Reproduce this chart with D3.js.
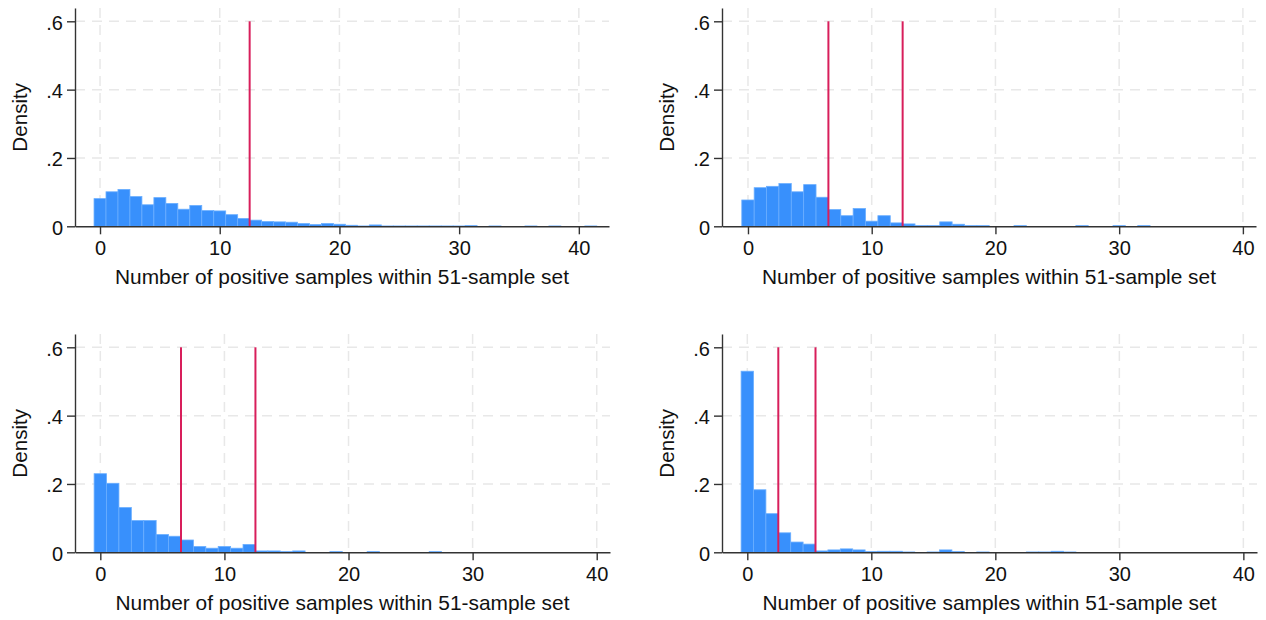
<!DOCTYPE html>
<html>
<head>
<meta charset="utf-8">
<script src="https://cdn.jsdelivr.net/npm/d3@7"></script>
<style>
  body { margin: 0; background: #fff; }
  svg { display: block; font-family: "Liberation Sans", Arial, Helvetica, sans-serif; }
</style>
</head>
<body>
<svg id="chart" width="1266" height="620"></svg>
<script>
// density per bin, bins centred on 0,1,2,... (bin i = [i-0.5, i+0.5))
var densityA = [0.081, 0.101, 0.108, 0.087, 0.063, 0.084, 0.067, 0.050, 0.061, 0.046,
                0.045, 0.034, 0.023, 0.018, 0.014, 0.013, 0.012, 0.008, 0.005, 0.008,
                0.006, 0.003, 0.001, 0.004, 0.001, 0.001, 0.001, 0.001, 0.001, 0.001,
                0.001, 0.002, 0, 0.001, 0, 0, 0.001, 0, 0.001, 0, 0, 0.001];
var densityB = [0.077, 0.113, 0.117, 0.125, 0.101, 0.122, 0.085, 0.049, 0.031, 0.052,
                0.015, 0.031, 0.010, 0.007, 0.002, 0.002, 0.013, 0.006, 0.002, 0.002,
                0, 0, 0.002, 0, 0, 0, 0, 0.002, 0, 0, 0.002, 0, 0.002];
var densityC = [0.230, 0.202, 0.131, 0.093, 0.093, 0.052, 0.047, 0.036, 0.017, 0.012,
                0.017, 0.012, 0.023, 0.004, 0.004, 0.002, 0.004, 0, 0, 0.002,
                0, 0, 0.002, 0, 0, 0, 0, 0.002];
var densityD = [0.530, 0.183, 0.113, 0.057, 0.030, 0.024, 0.004, 0.007, 0.010, 0.007,
                0.002, 0.003, 0.003, 0.001, 0, 0.001, 0.007, 0.002, 0, 0.001,
                0, 0, 0, 0.001, 0.001, 0.003, 0.001];

// reference lines (cut-offs)
var cutsA = [12.5];
var cutsB = [6.5, 12.5];
var cutsC = [6.5, 12.5];
var cutsD = [2.5, 5.5];

var xTicks = [0, 10, 20, 30, 40];
var yTicks = [0, 0.2, 0.4, 0.6];
var xTitle = "Number of positive samples within 51-sample set";
var yTitle = "Density";

// layout of the 2x2 grid
var panels = [
  {data: densityA, cuts: cutsA, left: 75,  right: 609,  base: 226.3, xDomain: [-2.09, 42.52]},
  {data: densityB, cuts: cutsB, left: 722, right: 1256, base: 226.3, xDomain: [-2.1, 41.06]},
  {data: densityC, cuts: cutsC, left: 75,  right: 610,  base: 552.3, xDomain: [-2.04, 41.07]},
  {data: densityD, cuts: cutsD, left: 722, right: 1257, base: 552.3, xDomain: [-2.04, 41.1]}
];

var svg = d3.select("#chart");
var pxPerUnitY = 205 / 0.6;   // .6 sits 205px above the baseline
var yTop = 0.639;            // axis runs a bit past .6
var fmtY = function(d) { return d === 0 ? "0" : d3.format(".1f")(d).replace(/^0/, ""); };

panels.forEach(function(p) {
  var x = d3.scaleLinear().domain(p.xDomain).range([p.left, p.right]);
  var y = d3.scaleLinear().domain([0, yTop]).range([p.base, p.base - yTop * pxPerUnitY]);
  var g = svg.append("g");
  var bins = p.data.map(function(v, i) { return {bin: i, v: v}; })
    .filter(function(d) { return d.v > 0; });

  // dashed grid
  g.selectAll(".hgrid").data(yTicks.slice(1)).enter().append("line")
    .attr("x1", p.left).attr("x2", p.right)
    .attr("y1", function(d) { return y(d); }).attr("y2", function(d) { return y(d); })
    .attr("stroke", "#e8e8e8").attr("stroke-width", 1.5).attr("stroke-dasharray", "10,7");
  g.selectAll(".vgrid").data(xTicks).enter().append("line")
    .attr("x1", function(d) { return x(d); }).attr("x2", function(d) { return x(d); })
    .attr("y1", y(yTop)).attr("y2", p.base)
    .attr("stroke", "#e8e8e8").attr("stroke-width", 1.5).attr("stroke-dasharray", "10,7");

  // histogram bars
  g.selectAll(".bar").data(bins).enter().append("rect")
    .attr("x", function(d) { return x(d.bin - 0.5); })
    .attr("width", function(d) { return x(d.bin + 0.5) - x(d.bin - 0.5); })
    .attr("y", function(d) { return y(d.v); })
    .attr("height", function(d) { return p.base - y(d.v); })
    .attr("fill", "#3890fc")
    .attr("stroke", "#6aaeff")
    .attr("stroke-width", 0.8);

  // cut-off lines
  g.selectAll(".cut").data(p.cuts).enter().append("line")
    .attr("x1", function(d) { return x(d); }).attr("x2", function(d) { return x(d); })
    .attr("y1", y(0)).attr("y2", y(0.6))
    .attr("stroke", "#d81e5b").attr("stroke-width", 2);

  // axes
  var xAxis = g.append("g").attr("transform", "translate(0," + p.base + ")")
    .call(d3.axisBottom(x).tickValues(xTicks).tickSize(8).tickPadding(7).tickSizeOuter(0));
  var yAxis = g.append("g").attr("transform", "translate(" + p.left + ",0)")
    .call(d3.axisLeft(y).tickValues(yTicks).tickFormat(fmtY).tickSize(8).tickPadding(4).tickSizeOuter(0));
  [xAxis, yAxis].forEach(function(a) {
    a.select(".domain").attr("stroke", "#333").attr("stroke-width", 1.4);
    a.selectAll(".tick line").attr("stroke", "#333").attr("stroke-width", 1.4);
    a.selectAll("text").attr("fill", "#111").style("font-size", "20px")
      .style("font-family", "'Liberation Sans', Arial, Helvetica, sans-serif");
  });
  yAxis.selectAll("text").attr("dy", "0.4em");

  // titles
  g.append("text")
    .attr("x", (p.left + p.right) / 2).attr("y", p.base + 58)
    .attr("text-anchor", "middle").attr("fill", "#111")
    .style("font-size", "20.9px").text(xTitle);
  g.append("text")
    .attr("transform", "translate(" + (p.left - 48.5) + "," + (p.base - 109) + ") rotate(-90)")
    .attr("text-anchor", "middle").attr("fill", "#111")
    .style("font-size", "20.6px").text(yTitle);
});
</script>
</body>
</html>
